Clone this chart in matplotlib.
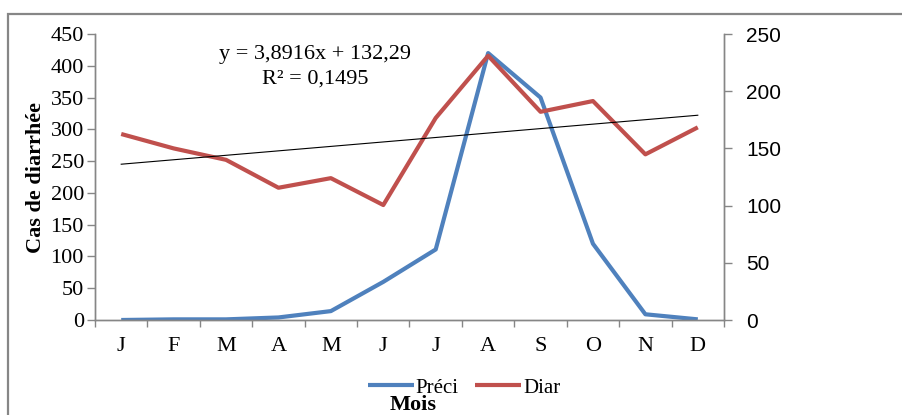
import matplotlib
matplotlib.use("Agg")
import matplotlib.pyplot as plt
from matplotlib.patches import Rectangle
import numpy as np

months = ["J", "F", "M", "A", "M", "J", "J", "A", "S", "O", "N", "D"]
preci = [0, 1, 1, 4, 14, 60, 111, 420, 350, 120, 9, 1]
diar = [162.6, 150, 140, 115.6, 124, 100.5, 176.6, 231, 182, 191.4, 144.8, 168.4]
trend_slope = 3.8916
trend_intercept = 132.29
eq_text = "y = 3,8916x + 132,29"
r2_text = "R² = 0,1495"
left_ticks = [0, 50, 100, 150, 200, 250, 300, 350, 400, 450]
right_ticks = [0, 50, 100, 150, 200, 250]

serif = "Liberation Serif"
sans = "Liberation Sans"
gray = "#868686"
blue = "#4F81BD"
red = "#C0504D"

W, H = 903, 415
fig = plt.figure(figsize=(W / 100, H / 100), dpi=100)

# outer chart border
fig.patches.append(Rectangle((8 / W, -0.1), 1.2, 1 - 14 / H + 0.1,
                             transform=fig.transFigure, fill=False,
                             edgecolor=gray, linewidth=1.6, zorder=0))

ax = fig.add_axes([95 / W, 1 - 320 / H, (724 - 95) / W, (320 - 34) / H])
ax2 = ax.twinx()

x = np.arange(len(months))
l1, = ax.plot(x, preci, color=blue, lw=3, solid_capstyle="butt", label="Préci")
l2, = ax2.plot(x, diar, color=red, lw=3, solid_capstyle="butt", label="Diar")
trend = [trend_slope * (i + 1) + trend_intercept for i in x]
ax2.plot(x, trend, color="black", lw=0.8)

ax.set_xlim(-0.5, len(months) - 0.5)
ax.set_ylim(0, 450)
ax2.set_ylim(0, 250)

ax.set_yticks(left_ticks)
ax2.set_yticks(right_ticks)
ax.set_yticklabels([str(v) for v in left_ticks], fontfamily=serif, fontsize=16)
ax2.set_yticklabels([str(v) for v in right_ticks], fontfamily=sans, fontsize=15)

ax.set_xticks(x)
ax.set_xticklabels(months, fontfamily=serif, fontsize=16)
ax.set_xticks(np.arange(-0.5, len(months)), minor=True)
ax.tick_params(axis="x", which="major", length=0, pad=12)
ax.tick_params(axis="x", which="minor", length=5, color=gray, width=1)
ax.tick_params(axis="y", length=6, color=gray, width=1, pad=2)
ax2.tick_params(axis="y", length=6, color=gray, width=1, pad=10)

for a in (ax, ax2):
    a.spines["top"].set_visible(False)
    for s in ("left", "right", "bottom"):
        a.spines[s].set_color(gray)
        a.spines[s].set_linewidth(1)
    a.patch.set_visible(False)

ax.set_ylabel("Cas de diarrhée", fontfamily=serif, fontsize=16,
              fontweight="bold", labelpad=3)

ax.text(0.35, 0.93, eq_text, transform=ax.transAxes, ha="center", va="center",
        fontfamily=serif, fontsize=16)
ax.text(0.35, 0.843, r2_text, transform=ax.transAxes, ha="center", va="center",
        fontfamily=serif, fontsize=16)

fig.legend(handles=[l1, l2], loc="center", bbox_to_anchor=(0.514, 1 - 388 / H),
           ncol=2, frameon=False, prop={"family": serif, "size": 15},
           handlelength=2.2, handletextpad=0.1, columnspacing=0.8,
           borderpad=0, borderaxespad=0)
fig.text(0.457, 1 - 405 / H, "Mois", ha="center", va="center",
         fontfamily=serif, fontsize=16, fontweight="bold")

fig.savefig("out.png", dpi=100)
